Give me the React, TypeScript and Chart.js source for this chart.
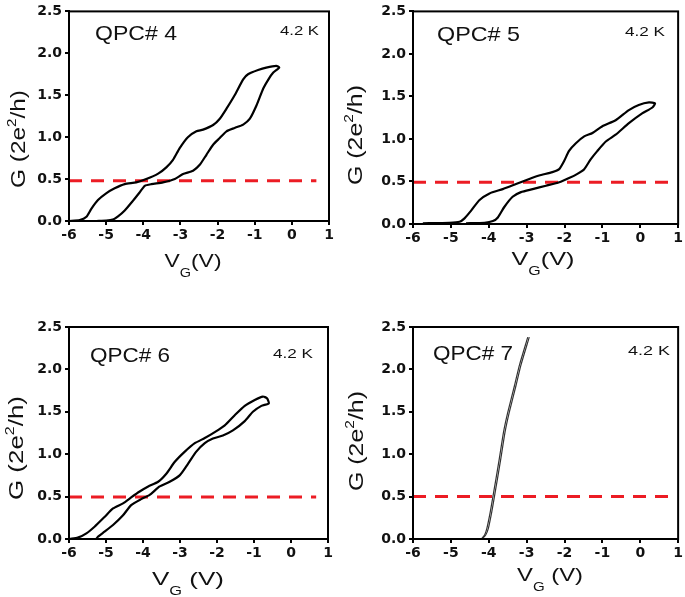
import React, { useEffect, useRef } from 'react';
import { Chart, registerables } from 'chart.js';

Chart.register(...registerables);

// ---------- data ----------
const xTickMin = -6;
const xTickMax = 1;
const yTickMin = 0;
const yTickMax = 2.5;

const panelLabels = ['QPC# 4', 'QPC# 5', 'QPC# 6', 'QPC# 7'];
const tempLabel = '4.2 K';

// red dashed reference level (G) and where the dashed line ends (V)
const refLevels = [0.48, 0.49, 0.495, 0.5];
const refEnds = [0.66, 0.82, 0.68, 0.84];

// QPC# 4 hysteresis loop (VG in V, G in 2e^2/h)
const qpc4Vg = [-6.0, -5.71, -5.53, -5.4, -5.22, -5.0, -4.77, -4.5, -4.19, -3.92, -3.6, -3.38, -3.2, -3.02, -2.8, -2.57, -2.39, -2.12, -1.94, -1.76, -1.54, -1.31, -1.18, -0.91, -0.69, -0.42, -0.34, -0.5, -0.63, -0.77, -0.95, -1.13, -1.31, -1.54, -1.76, -1.94, -2.12, -2.3, -2.48, -2.66, -2.93, -3.15, -3.47, -3.78, -3.96, -4.1, -4.28, -4.5, -4.68, -4.82, -5.0, -5.26];
const qpc4G = [0, 0.01, 0.05, 0.145, 0.25, 0.33, 0.39, 0.44, 0.46, 0.5, 0.565, 0.64, 0.73, 0.87, 1.0, 1.07, 1.09, 1.145, 1.22, 1.34, 1.5, 1.69, 1.75, 1.8, 1.83, 1.85, 1.83, 1.77, 1.69, 1.58, 1.38, 1.22, 1.15, 1.11, 1.07, 0.99, 0.91, 0.79, 0.67, 0.6, 0.56, 0.5, 0.46, 0.44, 0.42, 0.34, 0.24, 0.125, 0.055, 0.016, 0.004, 0];

// QPC# 5
const qpc5Vg = [-5.74, -5.04, -4.77, -4.64, -4.46, -4.25, -3.98, -3.63, -3.28, -2.93, -2.67, -2.32, -2.14, -2.01, -1.88, -1.7, -1.48, -1.26, -1.0, -0.65, -0.3, -0.04, 0.23, 0.39, 0.32, 0.05, -0.3, -0.65, -0.91, -1.13, -1.31, -1.48, -1.66, -1.88, -2.14, -2.49, -2.84, -3.15, -3.37, -3.59, -3.76, -3.89, -4.11, -4.6];
const qpc5G = [0.008, 0.015, 0.027, 0.066, 0.16, 0.28, 0.36, 0.41, 0.47, 0.53, 0.57, 0.61, 0.645, 0.74, 0.86, 0.95, 1.03, 1.07, 1.15, 1.22, 1.34, 1.4, 1.43, 1.42, 1.37, 1.3, 1.185, 1.05, 0.97, 0.86, 0.76, 0.645, 0.59, 0.54, 0.49, 0.45, 0.41, 0.375, 0.32, 0.2, 0.077, 0.035, 0.015, 0.008];

// QPC# 6
const qpc6Vg = [-5.98, -5.76, -5.53, -5.31, -5.04, -4.81, -4.54, -4.32, -4.09, -3.86, -3.59, -3.37, -3.14, -2.87, -2.6, -2.33, -2.06, -1.79, -1.52, -1.25, -0.98, -0.76, -0.65, -0.6, -0.8, -1.03, -1.25, -1.57, -1.84, -2.11, -2.33, -2.56, -2.78, -3.01, -3.28, -3.55, -3.82, -4.05, -4.32, -4.54, -4.81, -5.04, -5.22, -5.26];
const qpc6G = [0, 0.016, 0.067, 0.145, 0.26, 0.36, 0.42, 0.49, 0.56, 0.62, 0.675, 0.77, 0.91, 1.03, 1.13, 1.19, 1.26, 1.34, 1.46, 1.57, 1.64, 1.68, 1.66, 1.6, 1.57, 1.5, 1.39, 1.28, 1.22, 1.185, 1.13, 1.03, 0.89, 0.75, 0.675, 0.62, 0.52, 0.47, 0.4, 0.28, 0.165, 0.086, 0.027, 0];

// QPC# 7 (up and down sweeps nearly overlap)
const qpc7VgUp = [-4.2, -4.11, -4.05, -3.96, -3.89, -3.81, -3.72, -3.61, -3.5, -3.32, -3.19, -2.97];
const qpc7GUp = [0, 0.047, 0.125, 0.32, 0.5, 0.71, 0.95, 1.26, 1.49, 1.81, 2.05, 2.38];
const qpc7VgDown = [-2.93, -3.15, -3.28, -3.46, -3.57, -3.68, -3.77, -3.85, -3.92, -4.01, -4.08, -4.18];
const qpc7GDown = [2.38, 2.05, 1.81, 1.49, 1.26, 0.95, 0.71, 0.5, 0.32, 0.125, 0.047, 0];

// ---------- layout (page coordinates) ----------
const panels = [
  {
    left: 0, top: 0, w: 342, h: 300,
    area: { l: 69, t: 8, r: 329, b: 221 },
    label: { x: 95, y: 40, w: 82 }, temp: { x: 319, y: 35, w: 39 },
    xTitle: { x: 193, y: 267, w: 57, space: false }, yTitle: { x: 18, y: 139, len: 98 },
  },
  {
    left: 342, top: 0, w: 343, h: 300,
    area: { l: 413, t: 8, r: 680, b: 224 },
    label: { x: 437, y: 41, w: 83 }, temp: { x: 665, y: 36, w: 40 },
    xTitle: { x: 543, y: 265, w: 63, space: false }, yTitle: { x: 355, y: 135, len: 100 },
  },
  {
    left: 0, top: 300, w: 342, h: 297,
    area: { l: 69, t: 327, r: 328, b: 539 },
    label: { x: 90, y: 362, w: 80 }, temp: { x: 313, y: 358, w: 40 },
    xTitle: { x: 188, y: 585, w: 72, space: true }, yTitle: { x: 16, y: 448, len: 104 },
  },
  {
    left: 342, top: 300, w: 343, h: 297,
    area: { l: 413, t: 327, r: 680, b: 539 },
    label: { x: 433, y: 360, w: 80 }, temp: { x: 670, y: 355, w: 42 },
    xTitle: { x: 550, y: 581, w: 66, space: true }, yTitle: { x: 356, y: 441, len: 100 },
  },
];

const pts = (vg: number[], g: number[]) => vg.map((v, i) => ({ x: v, y: g[i] }));

const curveSets = [
  [{ vg: qpc4Vg, g: qpc4G }],
  [{ vg: qpc5Vg, g: qpc5G }],
  [{ vg: qpc6Vg, g: qpc6G }],
  [{ vg: qpc7VgUp, g: qpc7GUp }, { vg: qpc7VgDown, g: qpc7GDown }],
];

const FONT = "'Liberation Sans', Arial, sans-serif";
const TEXT = '#111';

type Part = { t: string; size: number; dy: number };

function drawParts(ctx: CanvasRenderingContext2D, parts: Part[], targetW: number) {
  let total = 0;
  const widths = parts.map((p) => {
    ctx.font = `${p.size}px ${FONT}`;
    const w = ctx.measureText(p.t).width;
    total += w;
    return w;
  });
  const s = targetW / total;
  ctx.scale(s, 1);
  let x = -total / 2;
  parts.forEach((p, i) => {
    ctx.font = `${p.size}px ${FONT}`;
    ctx.fillText(p.t, x, p.dy);
    x += widths[i];
  });
}

function drawSingle(ctx: CanvasRenderingContext2D, t: string, x: number, y: number, size: number, targetW: number, align: 'left' | 'right') {
  ctx.save();
  ctx.font = `${size}px ${FONT}`;
  const w = ctx.measureText(t).width;
  const s = targetW / w;
  ctx.translate(x, y);
  ctx.scale(s, 1);
  ctx.textAlign = 'left';
  ctx.textBaseline = 'alphabetic';
  ctx.fillText(t, align === 'right' ? -w : 0, 0);
  ctx.restore();
}

function Panel({ idx }: { idx: number }) {
  const ref = useRef<HTMLCanvasElement | null>(null);
  const p = panels[idx];
  useEffect(() => {
    const padTop = p.area.t - p.top;
    const padRight = p.left + p.w - p.area.r;
    const yAxisW = p.area.l - p.left;
    const xAxisH = p.top + p.h - p.area.b;

    const decor = {
      id: 'decor' + idx,
      afterDraw(chart: any) {
        const ctx: CanvasRenderingContext2D = chart.ctx;
        const a = chart.chartArea;
        ctx.save();
        ctx.strokeStyle = '#000';
        ctx.lineWidth = 2;
        ctx.strokeRect(a.left, a.top, a.right - a.left, a.bottom - a.top);
        ctx.fillStyle = TEXT;
        ctx.textBaseline = 'alphabetic';
        drawSingle(ctx, panelLabels[idx], p.label.x - p.left, p.label.y - p.top, 21, p.label.w, 'left');
        drawSingle(ctx, tempLabel, p.temp.x - p.left, p.temp.y - p.top, 13, p.temp.w, 'right');
        // x title: V_G(V)
        ctx.save();
        ctx.translate(p.xTitle.x - p.left, p.xTitle.y - p.top);
        drawParts(ctx, [
          { t: 'V', size: 19, dy: 0 },
          { t: 'G', size: 12, dy: 10 },
          { t: p.xTitle.space ? ' (V)' : '(V)', size: 19, dy: 0 },
        ], p.xTitle.w);
        ctx.restore();
        // y title: G (2e^2/h)
        ctx.save();
        ctx.translate(p.yTitle.x - p.left + 7, p.yTitle.y - p.top);
        ctx.rotate(-Math.PI / 2);
        drawParts(ctx, [
          { t: 'G (2e', size: 21, dy: 0 },
          { t: '2', size: 13, dy: -9 },
          { t: '/h)', size: 21, dy: 0 },
        ], p.yTitle.len);
        ctx.restore();
        ctx.restore();
      },
    };

    const datasets: any[] = [];
    curveSets[idx].forEach((c) => {
      datasets.push({
        data: pts(c.vg, c.g),
        showLine: true,
        borderColor: idx === 3 ? '#333' : '#000',
        borderWidth: idx === 3 ? 1.2 : 2.2,
        pointRadius: 0,
        tension: 0.2,
        fill: false,
      });
    });
    datasets.push({
      data: pts([xTickMin, refEnds[idx]], [refLevels[idx], refLevels[idx]]),
      showLine: true,
      borderColor: '#ec1c24',
      borderWidth: 3,
      borderDash: [13, 9],
      pointRadius: 0,
      fill: false,
    });

    const tickFont = { family: "'DejaVu Sans', sans-serif", size: 14, weight: 'bold' as const };

    const chart = new Chart(ref.current as HTMLCanvasElement, {
      type: 'scatter',
      data: { datasets },
      options: {
        animation: false,
        responsive: false,
        devicePixelRatio: 1,
        layout: { padding: { top: padTop, right: padRight, left: 0, bottom: 0 } },
        plugins: { legend: { display: false }, tooltip: { enabled: false } },
        scales: {
          x: {
            type: 'linear',
            min: xTickMin,
            max: xTickMax,
            afterFit: (s: any) => { s.height = xAxisH; },
            ticks: { stepSize: 1, autoSkip: false, maxRotation: 0, color: TEXT, font: tickFont, padding: 2 },
            grid: { display: true, drawOnChartArea: false, drawTicks: true, tickLength: 4, color: '#000', lineWidth: 2 },
            border: { display: true, color: '#000', width: 2 },
          },
          y: {
            type: 'linear',
            min: yTickMin,
            max: yTickMax,
            afterFit: (s: any) => { s.width = yAxisW; },
            ticks: { stepSize: 0.5, color: TEXT, font: tickFont, padding: 3, callback: (v: any) => Number(v).toFixed(1) },
            grid: { display: true, drawOnChartArea: false, drawTicks: true, tickLength: 4, color: '#000', lineWidth: 2 },
            border: { display: true, color: '#000', width: 2 },
          },
        },
      },
      plugins: [decor],
    });
    return () => chart.destroy();
  }, []);
  return (
    <canvas
      ref={ref}
      width={p.w}
      height={p.h}
      style={{ position: 'absolute', left: p.left, top: p.top, width: p.w, height: p.h }}
    />
  );
}

export default function App() {
  return (
    <div style={{ position: 'absolute', left: 0, top: 0, width: 685, height: 597, background: '#fff', overflow: 'hidden' }}>
      {panels.map((_, i) => (
        <Panel key={i} idx={i} />
      ))}
    </div>
  );
}
